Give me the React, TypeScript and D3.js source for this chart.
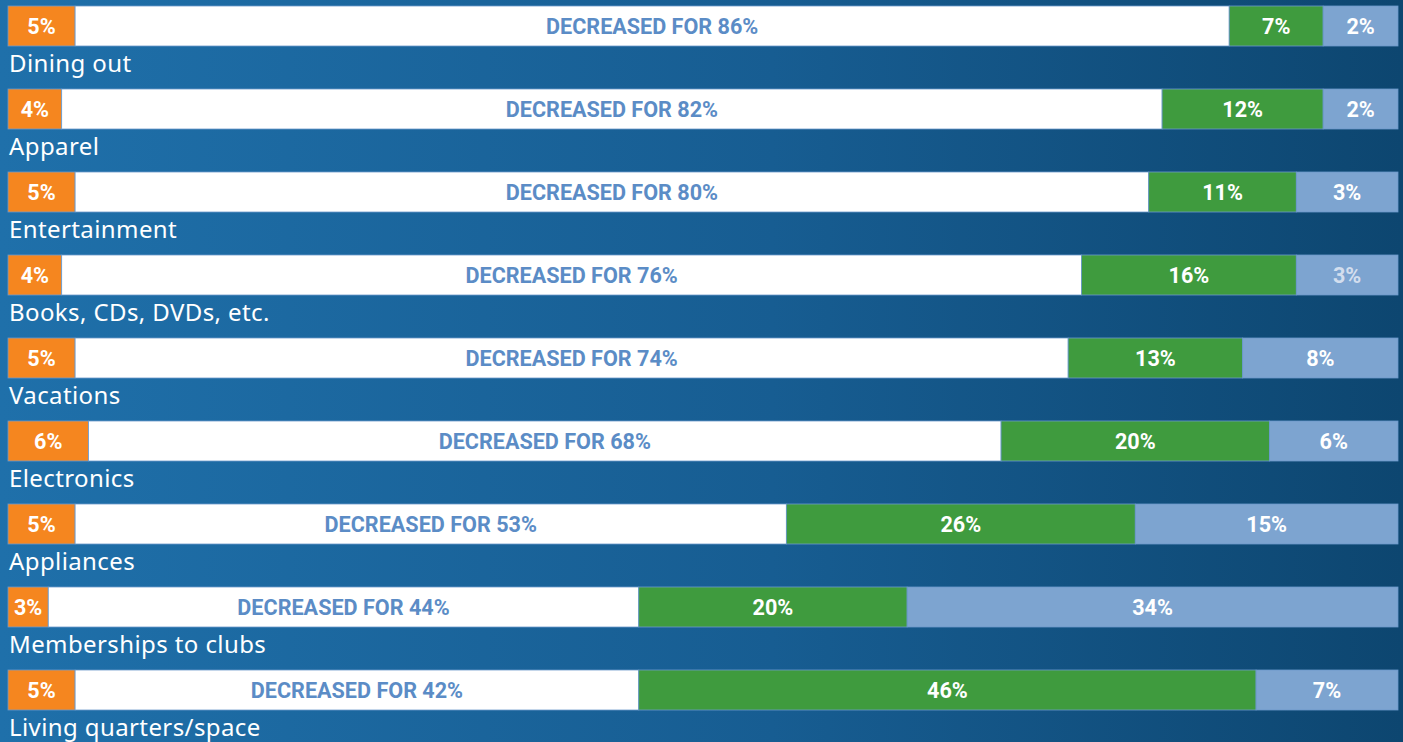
import React from "react";
import * as d3 from "d3";

const categories = [
  "Dining out",
  "Apparel",
  "Entertainment",
  "Books, CDs, DVDs, etc.",
  "Vacations",
  "Electronics",
  "Appliances",
  "Memberships to clubs",
  "Living quarters/space",
];
const increased = [5, 4, 5, 4, 5, 6, 5, 3, 5];
const decreased = [86, 82, 80, 76, 74, 68, 53, 44, 42];
const stayedSame = [7, 12, 11, 16, 13, 20, 26, 20, 46];
const other = [2, 2, 3, 3, 8, 6, 15, 34, 7];

const W = 1403;
const H = 742;
const LEFT = 8;
const RIGHT = 1398;
const ROW_START = 6;
const ROW_STEP = 83;
const BAR_H = 40;

const COLORS = {
  orange: "#f5861f",
  white: "#ffffff",
  green: "#3f9b3e",
  blue: "#7da4d0",
  decText: "#5b8cc6",
  stroke: "#6b9acb",
};

export default function App() {
  const x = d3.scaleLinear().domain([0, 100]).range([LEFT, LEFT + 1342]);
  const y = d3
    .scaleBand<number>()
    .domain(d3.range(categories.length))
    .range([ROW_START, ROW_START + ROW_STEP * categories.length])
    .paddingInner(0)
    .paddingOuter(0);

  const valueFont = "Roboto, 'Noto Sans', sans-serif";
  const labelFont = "'Noto Sans', 'Open Sans', sans-serif";

  return (
    <svg
      width={W}
      height={H}
      style={{ position: "absolute", left: 0, top: 0, display: "block" }}
    >
      <defs>
        <linearGradient id="bg" x1="0" y1="0" x2="1" y2="0">
          <stop offset="0%" stopColor="#1f70aa" />
          <stop offset="55%" stopColor="#175d92" />
          <stop offset="100%" stopColor="#0d4670" />
        </linearGradient>
      </defs>
      <rect x={0} y={0} width={W} height={H} fill="url(#bg)" />
      {categories.map((cat, i) => {
        const top = y(i)!;
        const a = increased[i];
        const b = a + decreased[i];
        const c = b + stayedSame[i];
        const segs = [
          { x0: x(0), x1: x(a), fill: COLORS.orange, text: `${increased[i]}%`, color: "#fff" },
          { x0: x(a), x1: x(b), fill: COLORS.white, text: `DECREASED FOR ${decreased[i]}%`, color: COLORS.decText },
          { x0: x(b), x1: x(c), fill: COLORS.green, text: `${stayedSame[i]}%`, color: "#fff" },
          { x0: x(c), x1: RIGHT, fill: COLORS.blue, text: `${other[i]}%`, color: i === 3 ? "#d3deee" : "#fff" },
        ];
        return (
          <g key={cat}>
            {segs.map((s, k) => (
              <rect
                key={k}
                x={s.x0}
                y={top}
                width={s.x1 - s.x0}
                height={BAR_H}
                fill={s.fill}
                stroke={COLORS.stroke}
                strokeWidth={0.8}
              />
            ))}
            {segs.map((s, k) => (
              <text
                key={"t" + k}
                x={(s.x0 + s.x1) / 2}
                y={top + BAR_H / 2}
                dy="0.36em"
                textAnchor="middle"
                fill={s.color}
                fontFamily={valueFont}
                fontWeight={700}
                fontSize={21.6}
              >
                {s.text}
              </text>
            ))}
            <text
              x={LEFT + 1}
              y={top + BAR_H + 25.5}
              fill="#ffffff"
              fontFamily={labelFont}
              fontSize={24}
              letterSpacing={0.4}
            >
              {cat}
            </text>
          </g>
        );
      })}
    </svg>
  );
}
